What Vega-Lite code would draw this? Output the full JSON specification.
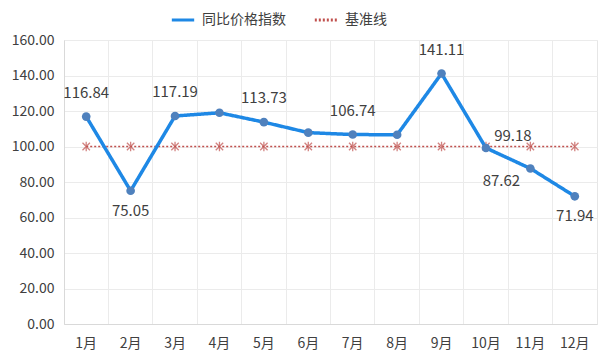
{
  "$schema": "https://vega.github.io/schema/vega-lite/v6.json",
  "autosize": {"type": "none"},
  "width": 533,
  "height": 284,
  "padding": {"left": 64, "top": 40, "right": 3, "bottom": 36},
  "config": {
    "font": "Noto Sans CJK SC",
    "view": {"stroke": "#e6e6e6"},
    "axis": {"labelFont": "Noto Sans CJK SC", "labelColor": "#404040", "labelFontSize": 14, "gridColor": "#ebebeb", "domainColor": "#d9d9d9", "ticks": false, "title": null}
  },
  "data": {"values": [
    {"m": "1月", "s": "同比价格指数", "v": 116.84, "pos": "above"},
    {"m": "2月", "s": "同比价格指数", "v": 75.05, "pos": "below"},
    {"m": "3月", "s": "同比价格指数", "v": 117.19, "pos": "above"},
    {"m": "4月", "s": "同比价格指数", "v": 119.0, "pos": "none"},
    {"m": "5月", "s": "同比价格指数", "v": 113.73, "pos": "above"},
    {"m": "6月", "s": "同比价格指数", "v": 107.8, "pos": "none"},
    {"m": "7月", "s": "同比价格指数", "v": 106.74, "pos": "above"},
    {"m": "8月", "s": "同比价格指数", "v": 106.6, "pos": "none"},
    {"m": "9月", "s": "同比价格指数", "v": 141.11, "pos": "above"},
    {"m": "10月", "s": "同比价格指数", "v": 99.18, "pos": "right"},
    {"m": "11月", "s": "同比价格指数", "v": 87.62, "pos": "left"},
    {"m": "12月", "s": "同比价格指数", "v": 71.94, "pos": "below"},
    {"m": "1月", "s": "基准线", "v": 100, "pos": "none"},
    {"m": "2月", "s": "基准线", "v": 100, "pos": "none"},
    {"m": "3月", "s": "基准线", "v": 100, "pos": "none"},
    {"m": "4月", "s": "基准线", "v": 100, "pos": "none"},
    {"m": "5月", "s": "基准线", "v": 100, "pos": "none"},
    {"m": "6月", "s": "基准线", "v": 100, "pos": "none"},
    {"m": "7月", "s": "基准线", "v": 100, "pos": "none"},
    {"m": "8月", "s": "基准线", "v": 100, "pos": "none"},
    {"m": "9月", "s": "基准线", "v": 100, "pos": "none"},
    {"m": "10月", "s": "基准线", "v": 100, "pos": "none"},
    {"m": "11月", "s": "基准线", "v": 100, "pos": "none"},
    {"m": "12月", "s": "基准线", "v": 100, "pos": "none"}
  ]},
  "encoding": {
    "x": {"field": "m", "type": "nominal", "sort": null,
      "scale": {"type": "band", "paddingInner": 0, "paddingOuter": 0},
      "axis": {"labelAngle": 0, "grid": true, "bandPosition": 0, "labelPadding": 12, "domain": true}},
    "y": {"field": "v", "type": "quantitative",
      "scale": {"domain": [0, 160]},
      "axis": {"values": [0, 20, 40, 60, 80, 100, 120, 140, 160], "format": ".2f", "labelPadding": 10, "domain": true}}
  },
  "layer": [
    {
      "transform": [{"filter": "datum.s === '基准线'"}],
      "mark": {"type": "line", "strokeWidth": 1.5},
      "encoding": {
        "color": {"field": "s", "type": "nominal", "sort": ["同比价格指数", "基准线"],
          "scale": {"domain": ["同比价格指数", "基准线"], "range": ["#1e88e5", "#c0504d"]},
          "legend": {"orient": "none", "legendX": 106, "legendY": -33, "direction": "horizontal", "title": null, "symbolType": "stroke", "symbolSize": 500, "symbolStrokeWidth": 3, "labelFontSize": 14, "labelColor": "#404040", "columnPadding": 22, "labelOffset": 6}},
        "strokeDash": {"field": "s", "type": "nominal", "sort": ["同比价格指数", "基准线"],
          "scale": {"domain": ["同比价格指数", "基准线"], "range": [[1, 0], [2, 2]]}}
      }
    },
    {
      "transform": [{"filter": "datum.s === '基准线'"}],
      "mark": {"type": "point", "shape": "M-1,-1L1,1M-1,1L1,-1M0,-1.3L0,1.3", "size": 55, "strokeWidth": 1.3, "color": "#c0504d", "filled": false},
      "encoding": {}
    },
    {
      "transform": [{"filter": "datum.s === '同比价格指数'"}],
      "mark": {"type": "line", "strokeWidth": 3.5, "color": "#1e88e5"},
      "encoding": {
        "color": {"field": "s", "type": "nominal", "sort": ["同比价格指数", "基准线"]},
        "strokeDash": {"field": "s", "type": "nominal", "sort": ["同比价格指数", "基准线"]}
      }
    },
    {
      "transform": [{"filter": "datum.s === '同比价格指数'"}],
      "mark": {"type": "circle", "size": 75, "color": "#4f81bd", "opacity": 1},
      "encoding": {}
    },
    {
      "transform": [{"filter": "datum.pos === 'above'"}],
      "mark": {"type": "text", "dy": -24, "fontSize": 15, "color": "#404040"},
      "encoding": {"text": {"field": "v", "format": ".2f"}}
    },
    {
      "transform": [{"filter": "datum.pos === 'below'"}],
      "mark": {"type": "text", "dy": 20, "fontSize": 15, "color": "#404040"},
      "encoding": {"text": {"field": "v", "format": ".2f"}}
    },
    {
      "transform": [{"filter": "datum.pos === 'right'"}],
      "mark": {"type": "text", "dx": 27, "dy": -12, "fontSize": 15, "color": "#404040"},
      "encoding": {"text": {"field": "v", "format": ".2f"}}
    },
    {
      "transform": [{"filter": "datum.pos === 'left'"}],
      "mark": {"type": "text", "dx": -29, "dy": 13, "fontSize": 15, "color": "#404040"},
      "encoding": {"text": {"field": "v", "format": ".2f"}}
    }
  ]
}
